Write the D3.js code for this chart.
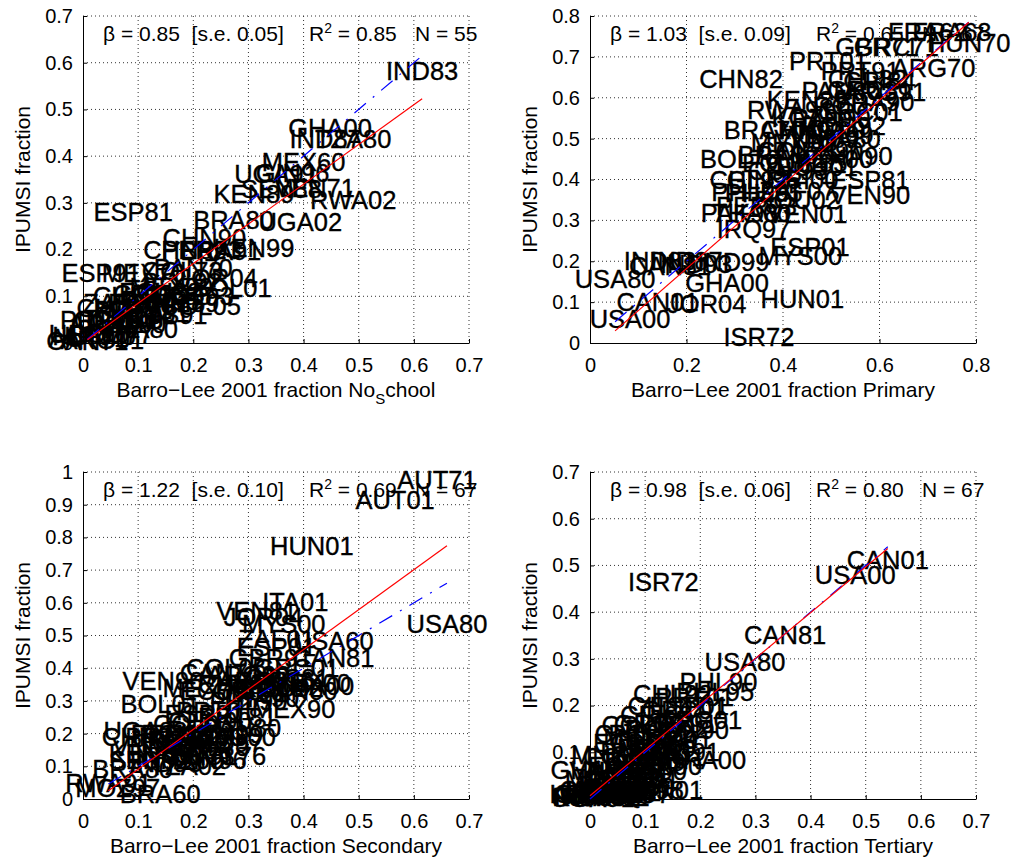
<!DOCTYPE html>
<html>
<head>
<meta charset="utf-8">
<script src="https://cdn.jsdelivr.net/npm/d3@7"></script>
<style>
  body { margin: 0; background: #fff; }
  svg text { font-family: "Liberation Sans", Arial, Helvetica, sans-serif; }
</style>
</head>
<body>
<svg id="chart" width="1013" height="863"></svg>
<script>
// No schooling panel
const noSchoolCode = ["IND83","GHA00","IND87","TZA80","MEX60","UGA91","GIN96","KEN89","SEN88","VEN71",
  "RWA02","ESP81","BRA80","UGA02","CHN90","CHN82","PER93","BRA91","KEN99","ESP91",
  "MEX70","COL73","PAN70","JOR04","BOL01","COL93","COL05","CHL02","CHL70","CRI73",
  "ARG01","USA00","AUT71","GRC71","HUN70","PRT81","ISR72","ROU77","CAN71","ARG70",
  "CHL92","CRI00","ECU82","ECU01","MEX90","PAN80","PHL90","VEN81","VNM89","MYS91",
  "THA80","BOL92","ZAF96","COL85","PRT91"]
const noSchoolX = [0.615,0.448,0.44,0.49,0.40,0.35,0.38,0.31,0.36,0.42,
  0.49,0.091,0.273,0.394,0.22,0.185,0.215,0.25,0.31,0.033,
  0.11,0.18,0.20,0.245,0.27,0.20,0.213,0.098,0.09,0.12,
  0.035,0.011,0.01,0.06,0.02,0.09,0.04,0.05,0.008,0.05,
  0.06,0.08,0.14,0.12,0.16,0.14,0.08,0.12,0.17,0.15,
  0.10,0.18,0.07,0.16,0.03]
const noSchoolY = [0.583,0.46,0.437,0.437,0.388,0.362,0.364,0.318,0.33,0.331,
  0.306,0.281,0.263,0.26,0.224,0.20,0.20,0.198,0.203,0.15,
  0.15,0.155,0.16,0.14,0.118,0.10,0.08,0.06,0.10,0.105,
  0.006,0.02,0.01,0.05,0.015,0.07,0.03,0.02,0.005,0.04,
  0.075,0.05,0.11,0.085,0.12,0.09,0.04,0.065,0.085,0.06,
  0.03,0.13,0.085,0.10,0.05]

// Primary panel
const primaryCode = ["CHN82","PRT01","ARG70","GBR71","GRC71","HUN70","FRA62","FRA68","PRT91","CHL82",
  "CRI84","PAN80","ARG91","GRC81","FRA90","KEN89","RWA91","GRC01","BRA70","ROU92",
  "MEX70","THA90","BOL76","ECU01","CHL92","GIN96","ESP81","VEN90","PHL90","PHL95",
  "ZAF07","ROU02","PAK98","THA00","VEN01","PER93","IRQ97","ESP01","MYS00","IND83",
  "CAN81","IND99","IND87","IND93","USA80","GHA00","HUN01","CAN01","JOR04","USA00",
  "ISR72","KGZ99","MNG00","VNM89","VNM99","COL73","COL85","COL93","CRI00","ECU82",
  "MEX90","MEX00","PAN90","THA80","BRA80","CHN90","ROU77"]
const primaryX = [0.313,0.494,0.712,0.595,0.635,0.785,0.70,0.75,0.56,0.575,
  0.60,0.52,0.61,0.58,0.59,0.45,0.415,0.56,0.361,0.525,
  0.42,0.545,0.31,0.47,0.33,0.36,0.58,0.58,0.332,0.36,
  0.43,0.43,0.31,0.335,0.45,0.345,0.339,0.456,0.436,0.145,
  0.166,0.297,0.20,0.22,0.052,0.284,0.44,0.14,0.242,0.083,
  0.35,0.46,0.48,0.47,0.50,0.43,0.45,0.41,0.44,0.40,
  0.48,0.50,0.50,0.52,0.39,0.44,0.55]
const primaryY = [0.646,0.689,0.673,0.725,0.725,0.734,0.76,0.76,0.665,0.645,
  0.64,0.617,0.615,0.62,0.59,0.595,0.57,0.565,0.52,0.53,
  0.49,0.457,0.449,0.43,0.40,0.40,0.40,0.363,0.37,0.368,
  0.372,0.35,0.318,0.318,0.315,0.335,0.278,0.234,0.213,0.20,
  0.189,0.197,0.20,0.193,0.156,0.148,0.107,0.10,0.095,0.058,
  0.015,0.55,0.52,0.50,0.51,0.47,0.44,0.42,0.40,0.44,
  0.47,0.45,0.55,0.50,0.46,0.52,0.58]

// Secondary panel
const secondaryCode = ["AUT71","AUT01","HUN01","ITA01","VEN81","JOR04","MYS00","ZAF01","USA60","ESP01",
  "USA80","CAN81","GBR91","GRC01","THA00","MEX00","PAN00","VEN90","CAN71","BOL01",
  "MEX90","PAN80","UGA02","KEN89","BRA80","RWA91","MOZ97","BRA60","BOL76","CRI73",
  "COL05","ARG80","ARG91","CHL82","CRI84","ECU90","MEX70","PHL00","PHL90","THA90",
  "ZAF96","GRC81","ROU92","PRT01","ESP91","CHN90","COL93","ECU82","PER93","BRA91",
  "BRA00","IND99","KGZ99","VNM99","MNG00","CHL70","IRQ97","PAK98","GHA00","IND87",
  "IND93","SEN02","TZA02","VNM89","CHN82","PRT81","GIN96"]
const secondaryX = [0.642,0.566,0.415,0.385,0.315,0.327,0.364,0.351,0.454,0.351,
  0.66,0.454,0.34,0.388,0.42,0.41,0.39,0.145,0.25,0.14,
  0.382,0.288,0.113,0.12,0.09,0.046,0.063,0.14,0.26,0.21,
  0.26,0.30,0.32,0.28,0.30,0.25,0.22,0.33,0.30,0.32,
  0.35,0.37,0.36,0.24,0.22,0.23,0.20,0.18,0.16,0.15,
  0.19,0.17,0.22,0.25,0.27,0.23,0.26,0.20,0.18,0.16,
  0.15,0.12,0.19,0.13,0.11,0.28,0.23]
const secondaryY = [0.975,0.913,0.775,0.602,0.576,0.556,0.536,0.49,0.484,0.464,
  0.535,0.43,0.43,0.40,0.345,0.355,0.33,0.362,0.385,0.29,
  0.276,0.218,0.208,0.137,0.091,0.05,0.035,0.015,0.13,0.13,
  0.40,0.38,0.36,0.35,0.33,0.33,0.34,0.34,0.30,0.31,
  0.36,0.37,0.34,0.27,0.26,0.24,0.23,0.20,0.20,0.19,
  0.18,0.17,0.19,0.20,0.19,0.16,0.17,0.15,0.12,0.14,
  0.11,0.12,0.10,0.16,0.19,0.25,0.12]

// Tertiary panel
const tertiaryCode = ["CAN01","USA00","ISR72","CAN81","USA80","PHL90","PHL95","PRT01","CHL02","ARG01",
  "HUN90","COL05","ESP91","MNG00","GHA00","BRA00","VEN01","CHL92","CRI00","GRC01",
  "ESP01","MEX00","ECU01","PAN00","ROU02","ARG91","ZAF01","VEN90","THA00","MYS00",
  "JOR04","COL93","CHN90","CHN82","IND83","IND87","IND93","IND99","KEN89","KEN99",
  "UGA91","UGA02","RWA91","RWA02","SEN88","GIN96","TZA02","MOZ97","BRA60","BRA80",
  "BOL76","BOL01","PAK98","IRQ97","VNM89","VNM99","MEX70","PER93","CRI84","ECU82",
  "THA80","PAN80","KGZ99","ROU92","PRT91","GRC81","CHL82"]
const tertiaryX = [0.54,0.481,0.133,0.354,0.281,0.233,0.227,0.19,0.14,0.20,
  0.176,0.094,0.15,0.045,0.004,0.21,0.132,0.15,0.12,0.17,
  0.18,0.10,0.08,0.12,0.11,0.16,0.14,0.13,0.09,0.10,
  0.07,0.06,0.02,0.01,0.0,0.02,0.03,0.04,0.0,0.03,
  0.005,0.02,0.01,0.03,0.04,0.05,0.06,0.07,0.08,0.06,
  0.05,0.09,0.10,0.08,0.05,0.04,0.03,0.11,0.13,0.07,
  0.06,0.09,0.10,0.14,0.16,0.12,0.08]
const tertiaryY = [0.512,0.48,0.465,0.351,0.294,0.251,0.23,0.219,0.20,0.17,
  0.148,0.158,0.126,0.094,0.062,0.083,0.019,0.225,0.18,0.19,
  0.20,0.13,0.12,0.11,0.14,0.10,0.09,0.07,0.08,0.06,
  0.05,0.09,0.02,0.01,0.005,0.008,0.012,0.02,0.01,0.02,
  0.003,0.01,0.004,0.005,0.008,0.01,0.015,0.02,0.025,0.04,
  0.03,0.04,0.02,0.01,0.05,0.06,0.04,0.10,0.12,0.07,
  0.06,0.10,0.08,0.15,0.16,0.16,0.14]

// regression results printed in each panel
const levelName = ["No_School", "Primary", "Secondary", "Tertiary"]
const betaText = ["0.85", "1.03", "1.22", "0.98"]
const seText = ["0.05", "0.09", "0.10", "0.06"]
const r2Text = ["0.85", "0.65", "0.69", "0.80"]
const nText = ["55", "67", "67", "67"]
const fitSlope = [0.85, 1.03, 1.22, 0.98]
const fitIntercept = [0.0, -0.024, -0.031, 0.007]

// ticks
const ticks07 = [0, 0.1, 0.2, 0.3, 0.4, 0.5, 0.6, 0.7]
const ticks08 = [0, 0.1, 0.2, 0.3, 0.4, 0.5, 0.6, 0.7, 0.8]
const ticks08by2 = [0, 0.2, 0.4, 0.6, 0.8]
const ticks10 = [0, 0.1, 0.2, 0.3, 0.4, 0.5, 0.6, 0.7, 0.8, 0.9, 1]

const W = 386, H = 327
const svg = d3.select("#chart")
svg.append("rect").attr("width", 1013).attr("height", 863).attr("fill", "#fff")

const panels = [
  {left: 83, top: 16, xMax: 0.7, yMax: 0.7, xTicks: ticks07, yTicks: ticks07, codes: noSchoolCode, xs: noSchoolX, ys: noSchoolY},
  {left: 590, top: 16, xMax: 0.8, yMax: 0.8, xTicks: ticks08by2, yTicks: ticks08, codes: primaryCode, xs: primaryX, ys: primaryY},
  {left: 83, top: 472, xMax: 0.7, yMax: 1, xTicks: ticks07, yTicks: ticks10, codes: secondaryCode, xs: secondaryX, ys: secondaryY},
  {left: 590, top: 472, xMax: 0.7, yMax: 0.7, xTicks: ticks07, yTicks: ticks07, codes: tertiaryCode, xs: tertiaryX, ys: tertiaryY}
]

const drawPanel = (p, k) => {
  let g = svg.append("g").attr("transform", `translate(${p.left},${p.top})`)
  let x = d3.scaleLinear().domain([0, p.xMax]).range([0, W])
  let y = d3.scaleLinear().domain([0, p.yMax]).range([H, 0])

  // dotted grid
  g.selectAll(".gx").data(p.xTicks.filter(d => d > 0)).enter().append("line")
    .attr("x1", d => x(d)).attr("x2", d => x(d)).attr("y1", 0).attr("y2", H)
    .attr("stroke", "#333").attr("stroke-dasharray", "1,3")
  g.selectAll(".gy").data(p.yTicks.filter(d => d > 0)).enter().append("line")
    .attr("x1", 0).attr("x2", W).attr("y1", d => y(d)).attr("y2", d => y(d))
    .attr("stroke", "#333").attr("stroke-dasharray", "1,3")

  // axes, ticks pointing inwards
  let xAxis = g.append("g").attr("transform", `translate(0,${H})`)
    .call(d3.axisBottom(x).tickValues(p.xTicks).tickFormat(d => String(d)).tickSizeInner(-4).tickSizeOuter(0).tickPadding(15))
  let yAxis = g.append("g")
    .call(d3.axisLeft(y).tickValues(p.yTicks).tickFormat(d => String(d)).tickSizeInner(-4).tickSizeOuter(0).tickPadding(10))
  for (let ax of [xAxis, yAxis]) {
    ax.attr("font-family", null).attr("font-size", 20)
    ax.selectAll("text").attr("fill", "#000")
    ax.selectAll("line, path").attr("stroke", "#000")
  }

  // country labels centred on the points
  g.selectAll(".lab").data(p.codes).enter().append("text")
    .attr("x", (d, i) => x(p.xs[i]))
    .attr("y", (d, i) => y(p.ys[i]))
    .attr("text-anchor", "middle")
    .attr("dominant-baseline", "central")
    .attr("font-size", 25.5)
    .attr("stroke", "#000").attr("stroke-width", 0.35)
    .text(d => d)

  // 45 degree line and fitted line
  let ext = d3.extent(p.xs)
  g.append("line")
    .attr("x1", x(ext[0])).attr("y1", y(ext[0]))
    .attr("x2", x(ext[1])).attr("y2", y(ext[1]))
    .attr("stroke", "#0000ff").attr("stroke-width", 1.2).attr("stroke-dasharray", "15,9,2,9")
  let fit = v => fitIntercept[k] + fitSlope[k] * v
  g.append("line")
    .attr("x1", x(ext[0])).attr("y1", y(fit(ext[0])))
    .attr("x2", x(ext[1])).attr("y2", y(fit(ext[1])))
    .attr("stroke", "#ff0000").attr("stroke-width", 1.2)

  // regression text
  let ann = g.append("text").attr("y", 25).attr("font-size", 21).style("white-space", "pre")
  ann.append("tspan").attr("x", 20).text(`\u03b2 = ${betaText[k]}  [s.e. ${seText[k]}]`)
  ann.append("tspan").attr("x", 226).text("R")
  ann.append("tspan").attr("dy", -8).attr("font-size", 14).text("2")
  ann.append("tspan").attr("dy", 8).text(` = ${r2Text[k]}`)
  ann.append("tspan").attr("x", 332).text(`N = ${nText[k]}`)

  // axis titles
  let xt = g.append("text").attr("x", W / 2).attr("y", H + 54)
    .attr("text-anchor", "middle").attr("font-size", 21)
  let parts = levelName[k].split("_")
  xt.append("tspan").text("Barro\u2212Lee 2001 fraction " + parts[0])
  if (parts.length > 1) {
    xt.append("tspan").attr("dy", 7).attr("font-size", 15).text(parts[1][0])
    xt.append("tspan").attr("dy", -7).text(parts[1].slice(1).toLowerCase())
  }
  g.append("text").attr("transform", `translate(-53,${H / 2}) rotate(-90)`)
    .attr("text-anchor", "middle").attr("font-size", 21)
    .text("IPUMSI fraction")
}

panels.forEach((p, k) => drawPanel(p, k))
</script>
</body>
</html>
